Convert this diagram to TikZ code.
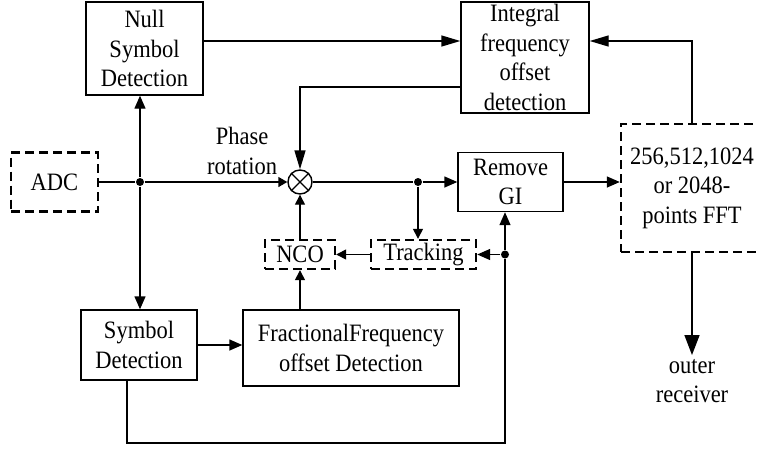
\documentclass[tikz,border=0pt]{standalone}
\usepackage{fontspec}
\setmainfont{Liberation Serif}[FakeStretch=0.9]
\usetikzlibrary{arrows.meta,calc}
\begin{document}
\begin{tikzpicture}[x=1pt,y=-1pt,
  font=\fontsize{25}{29.5}\selectfont,
  line width=1.4pt,
  >={Triangle[length=13pt,width=11pt]},
  longtip/.style={-{Triangle[length=19pt,width=11pt]}},
  bigtip/.style={-{Triangle[length=20pt,width=15pt]}},
  smalltip/.style={-{Triangle[length=10pt,width=10pt]}},
  blk/.style={draw,rectangle,inner sep=0pt,align=center},
  dblk/.style={blk,line width=2.4pt,dash pattern=on 9pt off 5pt},
  dotnode/.style={circle,fill,inner sep=0pt,minimum size=8pt}]
\useasboundingbox (0,0) rectangle (758,448);
\clip (0,0) rectangle (758,448);

% blocks
\node[blk,minimum width=117pt,minimum height=93pt] (null) at (144.5,48.5) {Null\\Symbol\\Detection};
\node[dblk,minimum width=87pt,minimum height=59pt] (adc) at (54.5,182) {ADC};
\node[blk,minimum width=128pt,minimum height=111pt] (integ) at (525,57.5) {Integral\\frequency\\offset\\detection};
\node[blk,minimum width=105pt,minimum height=59pt] (remove) at (510.5,182) {Remove\\GI};
\node[dblk,minimum width=142pt,minimum height=128pt] (fft) at (692,188) {256,512,1024\\or 2048-\\points FFT};
\node[dblk,minimum width=105pt,minimum height=29pt] (tracking) at (423.5,254.5) {Tracking};
\node[dblk,minimum width=70pt,minimum height=29pt] (nco) at (300,254.5) {NCO};
\node[blk,minimum width=116pt,minimum height=70pt] (symbol) at (139,345) {Symbol\\Detection};
\node[blk,minimum width=216pt,minimum height=76pt] (frac) at (351,348) {FractionalFrequency\\offset Detection};
\node[align=center] (outer) at (692,381) {outer\\receiver};
\node[align=center] (phase) at (242,151) {Phase\\rotation};

% mixer
\node[draw,circle,minimum size=24pt,inner sep=0pt] (mult) at (300,182) {};
\draw[line width=1.1pt] (mult.north west) -- (mult.south east)
                        (mult.north east) -- (mult.south west);

% branch points
\node[dotnode] (j1) at (140,182) {};
\node[dotnode] (j2) at (418,182) {};
\node[dotnode] (j3) at (505,254.5) {};
\coordinate (bot) at (505,443);

% connectors
\draw (adc.east) -- (j1);
\draw[-{Triangle[length=9pt,width=10pt]}] (j1) -- (mult.west);
\draw[->] (j1) -- (j1 |- null.south);
\draw[->] (j1) -- (j1 |- symbol.north);
\draw[longtip] ([yshift=7.5pt]null.east) -- ([yshift=7.5pt]null.east -| integ.west);
\draw[longtip] ([yshift=-29.5pt]integ.west) -| (mult.north);
\draw (mult.east) -- (j2);
\draw[->] (j2) -- (remove.west);
\draw[smalltip] (j2) -- (j2 |- tracking.north);
\draw[smalltip] (tracking.west) -- (nco.east);
\draw[smalltip] (nco.north) -- (mult.south);
\draw[smalltip] (nco.south |- frac.north) -- (nco.south);
\draw[->] (symbol.east) -- (symbol.east -| frac.west);
\draw ([xshift=-12pt]symbol.south) |- (bot) -- (j3);
\draw[->] (j3) -- (j3 |- remove.south);
\draw[->] (j3) -- (tracking.east);
\draw[->] (remove.east) -- (remove.east -| fft.west);
\draw[longtip] (fft.north) |- ([yshift=16.5pt]integ.east);
\draw[bigtip] (fft.south) -- (outer.north);
\end{tikzpicture}
\end{document}
